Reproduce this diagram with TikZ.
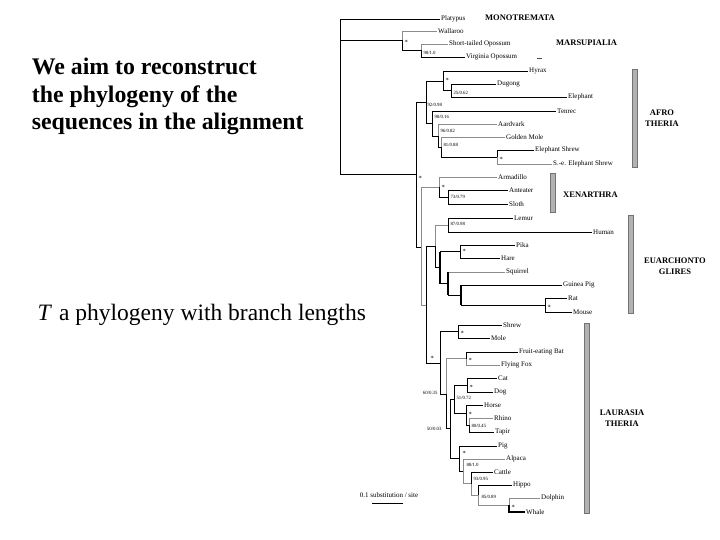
\documentclass[tikz,border=0pt]{standalone}
\usepackage{fontspec}
\setmainfont{Liberation Serif}
\begin{document}
\begin{tikzpicture}[x=1pt,y=-1pt,
  br/.style={draw=black,line width=0.6pt},
  gbr/.style={draw=black!45,line width=0.6pt},
  tbr/.style={draw=black,line width=1.3pt},
  leaf/.style={anchor=west,inner sep=1pt,font=\fontsize{7}{7}\selectfont},
  sup/.style={anchor=west,inner sep=0.3pt,font=\fontsize{4.8}{4.8}\selectfont},
  starlbl/.style={anchor=west,inner sep=0.3pt,font=\fontsize{6.5}{6.5}\selectfont},
  grp/.style={inner sep=0pt,align=center,font=\bfseries\fontsize{8.5}{10.5}\selectfont},
  cladebar/.style={fill=black!30,draw=black!55,line width=0.4pt},
  bigtext/.style={anchor=base west,inner sep=0pt,font=\bfseries\fontsize{23.8}{27.5}\selectfont}]
\useasboundingbox (0,0) rectangle (720,540);

% left texts
\node[bigtext] (t1) at (31.7,75) {We aim to reconstruct};
\node[bigtext] (t2) at (31.7,102.5) {the phylogeny of the};
\node[bigtext] (t3) at (31.7,130) {sequences in the alignment};
\node[anchor=base west,inner sep=0pt,font=\fontsize{23.5}{27}\selectfont] (tt) at (37.5,320) {\textit{T}\hspace{7pt}a phylogeny with branch lengths};

% internal nodes
\coordinate (R) at (340,174);
\coordinate (M) at (402,40);
\coordinate (O) at (421,50);
\coordinate (P) at (416,174);
\coordinate (A) at (426,102);
\coordinate (H) at (443,81);
\coordinate (DE) at (451,90.5);
\coordinate (T) at (432,123);
\coordinate (G) at (438,136);
\coordinate (GM) at (441,147.5);
\coordinate (ES) at (497,157);
\coordinate (XB) at (421,247);
\coordinate (X) at (439,187);
\coordinate (AS) at (448,197);
\coordinate (B) at (426,305);
\coordinate (E) at (435,246);
\coordinate (Pr) at (448,225);
\coordinate (G2) at (440,267);
\coordinate (PH) at (460,251.5);
\coordinate (SQ) at (448,283.5);
\coordinate (Ro) at (461,295);
\coordinate (RM) at (545,305);
\coordinate (L) at (440,363);
\coordinate (EU) at (458,331.5);
\coordinate (S) at (446,394);
\coordinate (BT) at (466,358.5);
\coordinate (F) at (450,428.5);
\coordinate (CP) at (454,399);
\coordinate (CA) at (467,385);
\coordinate (PE) at (466,413);
\coordinate (RT) at (469,425);
\coordinate (C) at (459,458.5);
\coordinate (C2) at (463,471);
\coordinate (C3) at (471,483.5);
\coordinate (HW) at (478,495);
\coordinate (DW) at (509,505);

% leaves
\node[leaf] (platypus) at (440,19) {Platypus};
\node[leaf] (wallaroo) at (437,31) {Wallaroo};
\node[leaf] (sto) at (448,44) {Short-tailed Opossum};
\node[leaf] (vo) at (465,57) {Virginia Opossum};
\node[leaf] (hyrax) at (528,71) {Hyrax};
\node[leaf] (dugong) at (496,84) {Dugong};
\node[leaf] (elephant) at (567,97) {Elephant};
\node[leaf] (tenrec) at (556,111) {Tenrec};
\node[leaf] (aardvark) at (497,124) {Aardvark};
\node[leaf] (goldenmole) at (505,137) {Golden Mole};
\node[leaf] (eshrew) at (534,150) {Elephant Shrew};
\node[leaf] (seshrew) at (552,164) {S.-e. Elephant Shrew};
\node[leaf] (armadillo) at (497,177) {Armadillo};
\node[leaf] (anteater) at (508,190) {Anteater};
\node[leaf] (sloth) at (508,204) {Sloth};
\node[leaf] (lemur) at (513,218) {Lemur};
\node[leaf] (human) at (592,232) {Human};
\node[leaf] (pika) at (515,245) {Pika};
\node[leaf] (hare) at (500,258) {Hare};
\node[leaf] (squirrel) at (505,272) {Squirrel};
\node[leaf] (guineapig) at (562,285) {Guinea Pig};
\node[leaf] (rat) at (567,298) {Rat};
\node[leaf] (mouse) at (572,312) {Mouse};
\node[leaf] (shrew) at (502,325) {Shrew};
\node[leaf] (mole) at (490,338) {Mole};
\node[leaf] (feb) at (518,352) {Fruit-eating Bat};
\node[leaf] (ffox) at (500,365) {Flying Fox};
\node[leaf] (cat) at (497,378) {Cat};
\node[leaf] (dog) at (493,392) {Dog};
\node[leaf] (horse) at (483,405) {Horse};
\node[leaf] (rhino) at (493,418) {Rhino};
\node[leaf] (tapir) at (494,432) {Tapir};
\node[leaf] (pig) at (497,446) {Pig};
\node[leaf] (alpaca) at (505,459) {Alpaca};
\node[leaf] (cattle) at (493,472) {Cattle};
\node[leaf] (hippo) at (512,485) {Hippo};
\node[leaf] (dolphin) at (540,498) {Dolphin};
\node[leaf] (whale) at (525,512) {Whale};

% branches
\draw[br] (R) |- (platypus.west);
\draw[br] (R) |- (M);
\draw[br] (R) |- (P);
\draw[gbr] (M) |- (wallaroo.west);
\draw[br] (M) |- (O);
\draw[gbr] (O) |- (sto.west);
\draw[br] (O) |- (vo.west);
\draw[br] (P) |- (A);
\draw[br] (P) |- (XB);
\draw[br] (A) |- (H);
\draw[br] (A) |- (T);
\draw[br] (H) |- (hyrax.west);
\draw[br] (H) |- (DE);
\draw[br] (DE) |- (dugong.west);
\draw[br] (DE) |- (elephant.west);
\draw[br] (T) |- (tenrec.west);
\draw[br] (T) |- (G);
\draw[gbr] (G) |- (aardvark.west);
\draw[br] (G) |- (GM);
\draw[gbr] (GM) |- (goldenmole.west);
\draw[br] (GM) |- (ES);
\draw[br] (ES) |- (eshrew.west);
\draw[gbr] (ES) |- (seshrew.west);
\draw[gbr] (XB) |- (X);
\draw[gbr] (XB) |- (B);
\draw[gbr] (X) |- (armadillo.west);
\draw[br] (X) |- (AS);
\draw[br] (AS) |- (anteater.west);
\draw[br] (AS) |- (sloth.west);
\draw[br] (B) |- (E);
\draw[br] (B) |- (L);
\draw[gbr] (E) |- (Pr);
\draw[br] (E) |- (G2);
\draw[br] (Pr) |- (lemur.west);
\draw[br] (Pr) |- (human.west);
\draw[br] (G2) |- (PH);
\draw[br] (G2) |- (SQ);
\draw[tbr] (G2 |- PH) -- (G2 |- SQ);
\draw[br] (PH) |- (pika.west);
\draw[br] (PH) |- (hare.west);
\draw[gbr] (SQ) |- (squirrel.west);
\draw[br] (SQ) |- (Ro);
\draw[tbr] (SQ |- squirrel.west) -- (SQ |- Ro);
\draw[br] (Ro) |- (guineapig.west);
\draw[br] (Ro) |- (RM);
\draw[tbr] (Ro |- guineapig.west) -- (Ro |- RM);
\draw[br] (RM) |- (rat.west);
\draw[br] (RM) |- (mouse.west);
\draw[br] (L) |- (EU);
\draw[br] (L) |- (S);
\draw[br] (EU) |- (shrew.west);
\draw[br] (EU) |- (mole.west);
\draw[gbr] (S) |- (BT);
\draw[br] (S) |- (F);
\draw[br] (BT) |- (feb.west);
\draw[gbr] (BT) |- (ffox.west);
\draw[br] (F) |- (CP);
\draw[br] (F) |- (C);
\draw[br] (CP) |- (CA);
\draw[br] (CP) |- (PE);
\draw[br] (CA) |- (cat.west);
\draw[br] (CA) |- (dog.west);
\draw[br] (PE) |- (horse.west);
\draw[br] (PE) |- (RT);
\draw[gbr] (RT) |- (rhino.west);
\draw[br] (RT) |- (tapir.west);
\draw[br] (C) |- (pig.west);
\draw[br] (C) |- (C2);
\draw[gbr] (C2) |- (alpaca.west);
\draw[gbr] (C2) |- (C3);
\draw[br] (C3) |- (cattle.west);
\draw[gbr] (C3) |- (HW);
\draw[br] (HW) |- (hippo.west);
\draw[gbr] (HW) |- (DW);
\draw[gbr] (DW) |- (dolphin.west);
\draw[tbr] (DW) |- (whale.west);

% support labels
\node[starlbl] (s1) at (404,42) {*};
\node[sup] (s2) at (423,53) {98/1.0};
\node[starlbl] (s3) at (445,80) {*};
\node[sup] (s4) at (453,93) {25/0.62};
\node[sup] (s5) at (427,105) {92/0.98};
\node[sup] (s6) at (434,117) {98/0.16};
\node[sup] (s7) at (440,131) {96/0.82};
\node[sup] (s8) at (443,145) {81/0.88};
\node[starlbl] (s9) at (499,159) {*};
\node[starlbl] (s10) at (418,178) {*};
\node[starlbl] (s11) at (441,187) {*};
\node[sup] (s12) at (450,197) {73/0.79};
\node[sup] (s13) at (450,224) {87/0.98};
\node[starlbl] (s14) at (462,251) {*};
\node[starlbl] (s15) at (547,307) {*};
\node[starlbl] (s16) at (430,358) {*};
\node[starlbl] (s17) at (460,333) {*};
\node[sup,anchor=east] (s18) at (438,393) {60/0.35};
\node[starlbl] (s19) at (468,360) {*};
\node[sup,anchor=east] (s20) at (442,429) {50/0.03};
\node[sup] (s21) at (456,398) {51/0.72};
\node[starlbl] (s22) at (469,387) {*};
\node[starlbl] (s23) at (468,414) {*};
\node[sup] (s24) at (471,426) {80/0.45};
\node[starlbl] (s25) at (462,453) {*};
\node[sup] (s26) at (466,465) {88/1.0};
\node[sup] (s27) at (473,479) {93/0.95};
\node[sup] (s28) at (481,497) {85/0.89};
\node[starlbl] (s29) at (511,507) {*};

% clade bars
\draw[cladebar] (632,69) rectangle (637,167);
\draw[cladebar] (550,173) rectangle (555,212);
\draw[cladebar] (628,215) rectangle (633,313);
\draw[cladebar] (584,323) rectangle (589,513);
\draw[black!70,line width=0.8pt] (537,58) -- (542,58);

% clade names
\node[grp] (g1) at (520,18) {MONOTREMATA};
\node[grp,anchor=west] (g2) at (556,43) {MARSUPIALIA};
\node[grp] (g3) at (662,118) {AFRO\\THERIA};
\node[grp,anchor=west] (g4) at (563,195) {XENARTHRA};
\node[grp] (g5) at (675,266) {EUARCHONTO\\GLIRES};
\node[grp] (g6) at (622,418) {LAURASIA\\THERIA};

% scale bar
\node[inner sep=0pt,font=\fontsize{7}{7}\selectfont] (sbt) at (389,495) {0.1 substitution / site};
\coordinate (sb1) at (372,503);
\coordinate (sb2) at (403,503);
\draw[black,line width=0.8pt] (sb1) -- (sb2);
\end{tikzpicture}
\end{document}
